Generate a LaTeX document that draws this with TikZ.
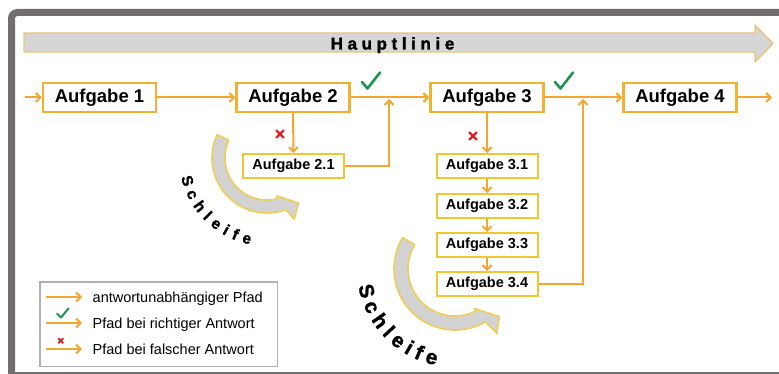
\documentclass[tikz,border=0pt]{standalone}
\usepackage{fontspec}
\setmainfont{Liberation Sans}
\newfontfamily\heavyfont[FakeBold=1.6]{Liberation Sans}
\usetikzlibrary{arrows.meta}

\definecolor{flow}{RGB}{242,168,48}
\definecolor{mainbd}{RGB}{240,178,48}
\definecolor{subbd}{RGB}{240,198,50}
\definecolor{loopbd}{RGB}{240,206,84}
\definecolor{loopfill}{RGB}{210,210,210}
\definecolor{barfill}{RGB}{214,214,214}
\definecolor{barbd}{RGB}{232,198,120}
\definecolor{okgreen}{RGB}{30,150,80}
\definecolor{nored}{RGB}{225,30,40}
\definecolor{framegray}{RGB}{112,110,110}
\definecolor{legendgray}{RGB}{176,176,176}

\newcommand\lsp{\kern4.6pt}

\tikzset{
  flowline/.style={draw=flow, line width=2pt},
  flowarrow/.style={flowline, -{Straight Barb[length=4.5pt,width=9pt]}},
  mainbox/.style={draw=mainbd, line width=2.5pt, fill=white, minimum width=113pt,
    minimum height=29pt, inner sep=0pt, font=\fontsize{18.5}{20}\selectfont\bfseries},
  subbox/.style={draw=subbd, line width=2pt, fill=white, minimum width=101pt,
    minimum height=24pt, inner sep=0pt, font=\fontsize{14.5}{16}\selectfont\bfseries},
  okmark/.style={draw=okgreen, line width=2.6pt, line cap=round, line join=round},
  nomark/.style={draw=nored, line width=2.4pt, line cap=round},
  loopband/.style={fill=loopfill, draw=loopbd, line width=1.6pt, line join=round},
  loopletter/.style={anchor=base, inner sep=0pt},
  legendtext/.style={anchor=base west, inner sep=0pt, font=\fontsize{14.5}{16}\selectfont},
}

\begin{document}
\begin{tikzpicture}[x=1pt, y=-1pt]
\useasboundingbox (0,0) rectangle (779,374);

% frame
\draw[framegray, line width=7pt, rounded corners=6pt] (785,12.5) -- (11.5,12.5) -- (11.5,380);
\draw[framegray, line width=1.5pt] (11.5,373) -- (785,373);

% main line banner
\filldraw[fill=barfill, draw=barbd, line width=1.4pt, line join=round]
  (24,33) -- (755,33) -- (755,25) -- (773,43.5) -- (755,62) -- (755,52) -- (24,52) -- cycle;
\node[anchor=base, inner sep=0pt, font=\fontsize{17}{19}\selectfont\heavyfont\bfseries] (hl) at (392.5,49.5)
  {H\lsp a\lsp u\lsp p\lsp t\lsp l\lsp i\lsp n\lsp i\lsp e};

% loop arrows
\path[loopband]
  plot[domain=205:70, samples=50] ({267+55*cos(\x)},{158+55*sin(\x)})
  -- ({267+67*cos(66)},{158+67*sin(66)})
  -- ({267+55*cos(55)},{158+55*sin(55)})
  -- ({267+39*cos(76)},{158+39*sin(76)})
  -- plot[domain=75:205, samples=50] ({267+42*cos(\x)},{158+42*sin(\x)})
  -- cycle;
\path[loopband]
  plot[domain=211:60, samples=50] ({455+61*cos(\x)},{269+61*sin(\x)})
  -- ({455+77*cos(57)},{269+77*sin(57)})
  -- ({455+65*cos(47)},{269+65*sin(47)})
  -- ({455+44*cos(64)},{269+44*sin(64)})
  -- plot[domain=63:211, samples=50] ({455+47*cos(\x)},{269+47*sin(\x)})
  -- cycle;

% loop labels, one letter at a time around each loop
\foreach \ch/\ang [count=\i] in {S/164, c/154.0, h/144.2, l/135.8, e/127.6, i/119.5, f/112.4, e/104.0}
  \node[loopletter, font=\fontsize{15.5}{15.5}\selectfont\heavyfont\bfseries, rotate={90-\ang}]
    (sa\i) at ({267+88*cos(\ang)},{158+88*sin(\ang)}) {\ch};
\foreach \ch/\ang [count=\i] in {S/166, c/155.4, h/145.2, l/136.6, e/128.3, i/120.1, f/113.2, e/104.7}
  \node[loopletter, font=\fontsize{20.5}{20.5}\selectfont\heavyfont\bfseries, rotate={90-\ang}]
    (sb\i) at ({455+98*cos(\ang)},{269+98*sin(\ang)}) {\ch};

% tasks
\node[mainbox] (a1) at (99.5,97.5) {Aufgabe 1};
\node[mainbox] (a2) at (293,97.5) {Aufgabe 2};
\node[mainbox] (a3) at (487,97.5) {Aufgabe 3};
\node[mainbox] (a4) at (680,97.5) {Aufgabe 4};

\node[subbox] (a21) at (293.5,166) {Aufgabe 2.1};
\node[subbox] (a31) at (487,166) {Aufgabe 3.1};
\node[subbox] (a32) at (487,206) {Aufgabe 3.2};
\node[subbox] (a33) at (487,245) {Aufgabe 3.3};
\node[subbox] (a34) at (487,284) {Aufgabe 3.4};

\coordinate (in) at (25,97.5);
\coordinate (out) at (772,97.5);
\coordinate (j1) at (389,99);
\coordinate (j2) at (583,99);

% main path
\draw[flowarrow] (in) -- (a1.west);
\draw[flowarrow] (a1.east) -- (a2.west);
\draw[flowarrow] (a2.east) -- (a3.west);
\draw[flowarrow] (a3.east) -- (a4.west);
\draw[flowarrow] (a4.east) -- (out);

% detours
\draw[flowarrow] (a2.south) -- (a21.north);
\draw[flowarrow] (a21.east) -| (j1);
\draw[flowarrow] (a3.south) -- (a31.north);
\draw[flowarrow] (a31.south) -- (a32.north);
\draw[flowarrow] (a32.south) -- (a33.north);
\draw[flowarrow] (a33.south) -- (a34.north);
\draw[flowarrow] (a34.east) -| (j2);

% right / wrong marks
\draw[okmark] (362,82) -- (367.5,88.5) -- (380,72.5);
\draw[okmark] (555,82) -- (560.5,88.5) -- (573,72.5);
\draw[nomark] (276.5,130.5) -- (283.5,137.5) (276.5,137.5) -- (283.5,130.5);
\draw[nomark] (469.5,132.5) -- (476.5,139.5) (469.5,139.5) -- (476.5,132.5);

% legend
\node[draw=legendgray, line width=1.5pt, fill=white, minimum width=237.5pt,
  minimum height=84.5pt, inner sep=0pt] (legend) at (158.5,324) {};
\coordinate (l1s) at (46,297);   \coordinate (l1e) at (82,297);
\coordinate (l2s) at (46,323);   \coordinate (l2e) at (82,323);
\coordinate (l3s) at (46,349);   \coordinate (l3e) at (82,349);
\draw[flowarrow] (l1s) -- (l1e);
\draw[flowarrow] (l2s) -- (l2e);
\draw[flowarrow] (l3s) -- (l3e);
\draw[okmark, line width=2pt] (57,313.5) -- (61,317.5) -- (68.5,308.5);
\draw[nomark, line width=1.8pt] (58.5,338.5) -- (63,343) (58.5,343) -- (63,338.5);
\node[legendtext] (t1) at (92.5,302.5) {antwortunabhängiger Pfad};
\node[legendtext] (t2) at (92.5,328.5) {Pfad bei richtiger Antwort};
\node[legendtext] (t3) at (92.5,354.5) {Pfad bei falscher Antwort};
\end{tikzpicture}
\end{document}
